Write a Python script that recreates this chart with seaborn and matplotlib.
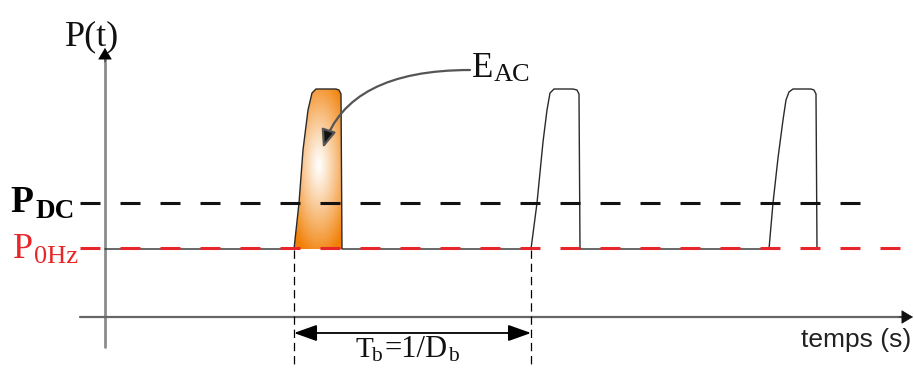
import numpy as np
import matplotlib
matplotlib.use("Agg")
import matplotlib.pyplot as plt
import seaborn as sns
from matplotlib.patches import Polygon

# ---------------- data (time units, power units) ----------------
signal_t = [0, 189, 194, 198, 203, 207, 211, 231, 234, 236, 237,
            426, 432, 438, 442, 445, 449, 468, 472, 474, 475,
            664, 668, 673, 678, 681, 684, 688, 706, 709, 711, 712]
signal_p = [68, 68, 114, 167, 207, 224, 228, 228, 227, 223, 68,
            68, 114, 175, 207, 224, 228, 228, 227, 223, 68,
            68, 114, 159, 197, 217, 225, 228, 228, 227, 223, 68]
pulse1_t = signal_t[1:11]
pulse1_p = signal_p[1:11]
p_dc = 114
p_0hz = 69
level_start = -25
p0hz_end = 800
pdc_end = 757
period_start = 189
period_end = 426

label_p = "P(t)"
label_time = "temps (s)"

# ---------------- style ----------------
sns.set_theme(style="white")
plt.rcParams["font.family"] = ["Liberation Serif", "DejaVu Serif"]
plt.rcParams["lines.scale_dashes"] = False

fig = plt.figure(figsize=(9.14, 3.69), dpi=100)
ax = fig.add_axes([0, 0, 1, 1])
ax.axis("off")

RED = "#e8262a"

# orange gradient fill of the first pulse
xs = np.linspace(185, 240, 160)
ys = np.linspace(60, 232, 400)
X, Y = np.meshgrid(xs, ys)
d = np.sqrt(((X - 214) / 34.0) ** 2 + ((Y - 152) / 95.0) ** 2)
f = np.clip(d, 0, 1) ** 1.1
orange = np.array([0.945, 0.50, 0.02])
img = (1 - f)[..., None] * np.ones(3) + f[..., None] * orange
im = ax.imshow(img, extent=(185, 240, 60, 232), origin="lower",
               aspect="auto", zorder=1, interpolation="bilinear")
poly = Polygon(np.column_stack([pulse1_t, pulse1_p]), closed=True,
               transform=ax.transData, facecolor="none", edgecolor="none")
ax.add_patch(poly)
im.set_clip_path(poly)

# axes with arrows
ax.plot([0, 0], [-30, 260], color="#8c8c8c", lw=2.0, zorder=2)
ax.annotate("", xy=(0, 269), xytext=(0, 255),
            arrowprops=dict(arrowstyle="-|>,head_length=0.5,head_width=0.3",
                            color="black", mutation_scale=15, lw=0.5,
                            shrinkA=0, shrinkB=0), zorder=3)
ax.plot([-25, 800], [0, 0], color="#666666", lw=1.6, zorder=2)
ax.annotate("", xy=(808, 0), xytext=(794, 0),
            arrowprops=dict(arrowstyle="-|>,head_length=0.5,head_width=0.3",
                            color="#111111", mutation_scale=15, lw=0.5,
                            shrinkA=0, shrinkB=0), zorder=3)

# signal
sns.lineplot(x=signal_t, y=signal_p, ax=ax, estimator=None, sort=False,
             color="#2a2a2a", lw=1.0, zorder=4)

# reference levels
ax.plot([level_start, p0hz_end], [p_0hz, p_0hz], color=RED, lw=2.2,
        linestyle=(0, (14.4, 14.4)), zorder=6)
ax.plot([level_start, pdc_end], [p_dc, p_dc], color="#111111", lw=2.2,
        linestyle=(0, (14.4, 14.4)), zorder=5)

# period markers
for t in (period_start, period_end):
    ax.plot([t, t], [p_0hz - 2, -52], color="black", lw=0.9,
            linestyle=(0, (6, 3.5)), zorder=2)
ax.annotate("", xy=(period_end, -16), xytext=(period_start, -16),
            arrowprops=dict(arrowstyle="<|-|>,head_length=0.7,head_width=0.25",
                            color="black", lw=1.3, mutation_scale=20,
                            shrinkA=0, shrinkB=0), zorder=4)

# curved arrow to energy
ax.annotate("", xy=(218, 169), xytext=(365, 247),
            arrowprops=dict(arrowstyle="-|>,head_length=0.55,head_width=0.22",
                            ec="#555555", fc="#111111", lw=1.6, mutation_scale=20,
                            shrinkA=0, shrinkB=0,
                            connectionstyle="angle3,angleA=0,angleB=72"),
            zorder=7)

# texts
ax.text(-13, 272, label_p, ha="center", va="baseline", fontsize=26, color="#111111")
ax.text(-95, 105, "P", ha="left", va="baseline", fontsize=27, fontweight="bold", color="black")
ax.text(-69, 99, "DC", ha="left", va="baseline", fontsize=19.5, fontweight="bold", color="black")
ax.text(-92, 59, "P", ha="left", va="baseline", fontsize=26, color=RED)
ax.text(-71, 54, "0Hz", ha="left", va="baseline", fontsize=19, color=RED)
ax.text(367, 240, "E", ha="left", va="baseline", fontsize=25, color="#111111")
ax.text(389, 236, "AC", ha="left", va="baseline", fontsize=19, color="#111111")
ax.text(250, -40, "T", ha="left", va="baseline", fontsize=21, color="#111111")
ax.text(266, -44, "b", ha="left", va="baseline", fontsize=15.5, color="#111111")
ax.text(279, -40, "=1/D", ha="left", va="baseline", fontsize=22, color="#111111")
ax.text(343, -44, "b", ha="left", va="baseline", fontsize=15.5, color="#111111")
ax.text(806, -30, label_time, ha="right", va="baseline", fontsize=19,
        family=["Liberation Sans", "DejaVu Sans"], color="#222222")

ax.set_xlim(-105, 809)
ax.set_ylim(-52, 317)
fig.savefig("out.png", dpi=100)
